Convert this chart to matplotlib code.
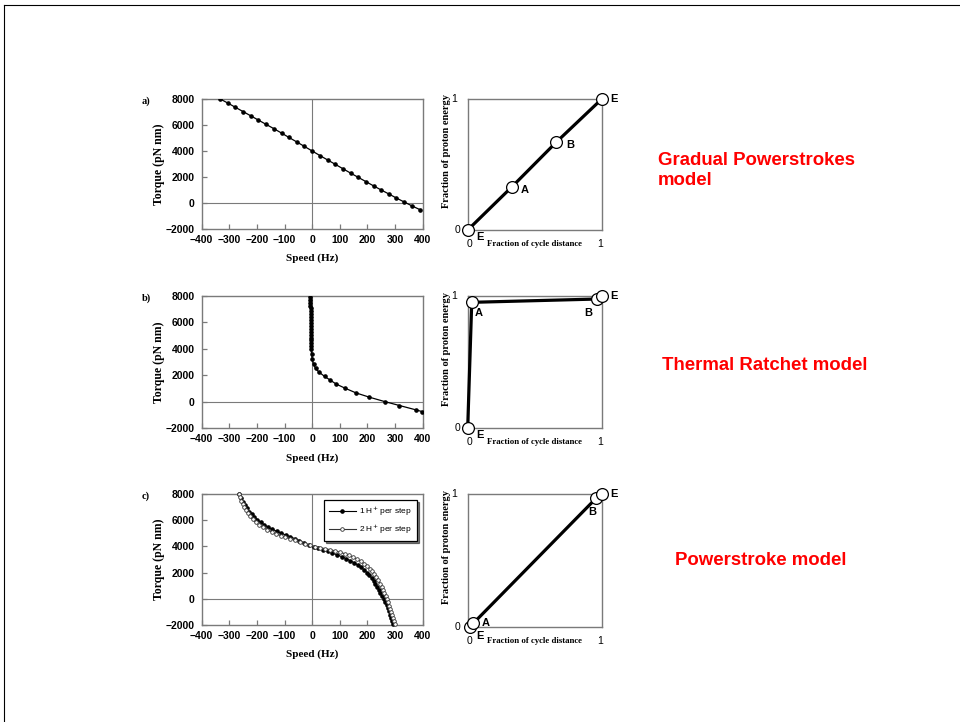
import matplotlib
matplotlib.use("Agg")
import matplotlib.pyplot as plt
from matplotlib.lines import Line2D

SANS = "Liberation Sans"
SERIF = "Liberation Serif"
GRAY = "#7a7a7a"
RED = "#ff0000"

# panel a: gradual powerstrokes
speed_a = [-333, -305, -278, -250, -222, -195, -167, -139, -111, -84, -56, -28, 0,
           28, 56, 84, 111, 139, 167, 195, 222, 250, 278, 305, 333, 361, 389]
torque_a = [8000, 7680, 7360, 7030, 6700, 6380, 6050, 5720, 5380, 5040, 4700, 4350, 4000,
            3650, 3310, 2970, 2640, 2300, 1970, 1640, 1320, 1000, 690, 380, 80, -220, -500]

# panel b: thermal ratchet
speed_b = [-7, -7, -7, -7, -6, -6, -6, -6, -6, -5, -5, -5, -5, -5, -4, -4, -4, -4, -4, -2,
           0, 5, 12, 26, 45, 63, 87, 120, 159, 207, 262, 316, 374, 398]
torque_b = [7930, 7700, 7480, 7260, 7040, 6820, 6600, 6380, 6160, 5940, 5720, 5500, 5280,
            5060, 4840, 4620, 4400, 4180, 3940, 3560,
            3190, 2820, 2500, 2200, 1900, 1650, 1320, 1000, 650, 330, 0, -300, -620, -760]

# panel c: powerstroke, 1 H+ per step
speed_c1 = [-264, -258, -251, -244, -236, -228, -219, -209, -198, -186, -173, -159, -144,
            -128, -112, -96, -80, -63, -46, -29, -12, 5, 22, 39, 56, 73, 90, 107, 123,
            138, 152, 165, 177, 188, 198, 207, 215, 222, 229, 235, 241, 247, 253, 259,
            264, 269, 274, 278, 282, 286, 290, 294]
torque_c1 = [8000, 7700, 7400, 7150, 6900, 6650, 6450, 6250, 6040, 5840, 5650, 5470, 5310,
             5160, 5020, 4880, 4750, 4600, 4440, 4280, 4110, 3960, 3850, 3740, 3620, 3490,
             3360, 3220, 3070, 2910, 2750, 2580, 2400, 2210, 2010, 1800, 1590, 1370, 1150,
             930, 700, 470, 240, 0, -240, -480, -720, -960, -1200, -1440, -1680, -1920]

# panel c: powerstroke, 2 H+ per step
speed_c2 = [-264, -261, -257, -252, -246, -240, -233, -225, -216, -205, -192, -178, -163,
            -147, -131, -114, -97, -80, -62, -44, -26, -8, 10, 28, 46, 64, 82, 100, 117,
            133, 148, 162, 175, 187, 198, 208, 217, 225, 232, 239, 245, 251, 256, 261,
            266, 271, 275, 279, 283, 287, 290, 293, 296, 299]
torque_c2 = [8000, 7750, 7500, 7260, 7020, 6780, 6540, 6300, 6070, 5850, 5640, 5450, 5270,
             5110, 4960, 4820, 4700, 4590, 4480, 4360, 4220, 4080, 3980, 3910, 3840, 3760,
             3670, 3570, 3450, 3320, 3180, 3030, 2870, 2690, 2500, 2300, 2090, 1870, 1640,
             1410, 1170, 930, 690, 450, 210, -30, -270, -510, -750, -990, -1230, -1470,
             -1710, -1950]

# energy diagrams: fraction of cycle distance / fraction of proton energy
dist_a = [0, 0.33, 0.66, 1]
energy_a = [0, 0.33, 0.67, 1]
dist_b = [0, 0.03, 0.965, 1]
energy_b = [0, 0.95, 0.975, 1]
dist_c = [0.015, 0.04, 0.96, 1]
energy_c = [0, 0.026, 0.97, 1]
point_names = ["E", "A", "B", "E"]

speed_ticks = [-400, -300, -200, -100, 0, 100, 200, 300, 400]
torque_ticks = [-2000, 0, 2000, 4000, 6000, 8000]

model_names = ["Gradual Powerstrokes\nmodel", "Thermal Ratchet model", "Powerstroke model"]


def fmt(v):
    return str(v).replace("-", "\u2212")


def torque_axes(ax, letter):
    ax.set_xlim(-400, 400)
    ax.set_ylim(-2000, 8000)
    ax.set_xticks(speed_ticks, [fmt(t) for t in speed_ticks],
                  fontfamily=SANS, fontweight="bold", fontsize=7.5)
    ax.set_yticks(torque_ticks, [fmt(t) for t in torque_ticks],
                  fontfamily=SANS, fontweight="bold", fontsize=7.5)
    ax.tick_params(direction="in", length=3.5, width=0.9, color=GRAY)
    ax.tick_params(axis="y", pad=5)
    ax.tick_params(axis="x", pad=4)
    for s in ax.spines.values():
        s.set_color(GRAY)
        s.set_linewidth(1.0)
    ax.axhline(0, color=GRAY, lw=0.8, zorder=1)
    ax.axvline(0, color=GRAY, lw=0.8, zorder=1)
    ax.text(-0.192, 0.5, "Torque (pN nm)", transform=ax.transAxes, rotation=90,
            ha="center", va="center", fontfamily=SERIF, fontweight="bold", fontsize=8.5)
    ax.text(0.5, -0.225, "Speed (Hz)", transform=ax.transAxes, ha="center", va="center",
            fontfamily=SERIF, fontweight="bold", fontsize=8)
    ax.text(-0.27, 0.985, letter, transform=ax.transAxes, ha="left", va="center",
            fontfamily=SERIF, fontweight="bold", fontsize=7.5)


def energy_axes(ax, dist, energy, offsets):
    ax.set_xlim(0, 1)
    ax.set_ylim(0, 1)
    ax.set_xticks([])
    ax.set_yticks([])
    for s in ax.spines.values():
        s.set_color(GRAY)
        s.set_linewidth(1.0)
    ax.plot(dist, energy, color="black", lw=2.3, zorder=3, clip_on=False)
    ax.plot(dist, energy, "o", ms=8.5, mfc="white", mec="black", mew=0.9,
            zorder=4, clip_on=False)
    for x, y, name, off in zip(dist, energy, point_names, offsets):
        ax.annotate(name, (x, y), xytext=off, textcoords="offset points",
                    ha="center", va="center", fontfamily=SANS, fontweight="bold",
                    fontsize=8)
    tk = dict(fontfamily=SANS, fontsize=7.5, ha="center", va="center",
              transform=ax.transAxes)
    ax.text(-0.075, 0.0, "0", **tk)
    ax.text(-0.1, 1.0, "1", **tk)
    ax.text(0.01, -0.11, "0", **tk)
    ax.text(0.985, -0.11, "1", **tk)
    ax.text(0.5, -0.11, "Fraction of cycle distance", transform=ax.transAxes,
            ha="center", va="center", fontfamily=SERIF, fontweight="bold", fontsize=6.3)
    ax.text(-0.16, 0.6, "Fraction of proton energy", transform=ax.transAxes,
            rotation=90, ha="center", va="center", fontfamily=SERIF,
            fontweight="bold", fontsize=7.5)


fig = plt.figure(figsize=(9.6, 7.22), dpi=100)

# slide border
fig.add_artist(Line2D([4 / 960, 1], [1 - 5 / 722, 1 - 5 / 722], color="black", lw=0.8))
fig.add_artist(Line2D([4 / 960, 4 / 960], [0, 1 - 5 / 722], color="black", lw=0.8))

ax_a = fig.add_axes([0.2101, 0.6828, 0.2302, 0.1801])
ax_b = fig.add_axes([0.2101, 0.4072, 0.2302, 0.1832])
ax_c = fig.add_axes([0.2101, 0.1343, 0.2302, 0.1814])
en_a = fig.add_axes([0.4872, 0.6814, 0.1396, 0.1814])
en_b = fig.add_axes([0.4872, 0.4076, 0.1396, 0.1828])
en_c = fig.add_axes([0.4875, 0.1320, 0.1393, 0.1838])

torque_axes(ax_a, "a)")
ax_a.plot(speed_a, torque_a, color="black", lw=0.9, marker="o", ms=2.3, zorder=3)

torque_axes(ax_b, "b)")
ax_b.plot(speed_b, torque_b, color="black", lw=0.9, marker="o", ms=2.3, zorder=3)

torque_axes(ax_c, "c)")
ax_c.plot(speed_c1, torque_c1, color="black", lw=0.8, marker="o", ms=2.3,
          label="1 H$^{+}$ per step", zorder=3, clip_on=False)
ax_c.plot(speed_c2, torque_c2, color="#333333", lw=0.8, marker="o", ms=2.6,
          mfc="white", mec="#333333", mew=0.6, label="2 H$^{+}$ per step",
          zorder=3, clip_on=False)
leg = ax_c.legend(loc="upper right", bbox_to_anchor=(0.992, 0.99),
                  handlelength=3.2, borderpad=0.6, labelspacing=0.5, fancybox=False,
                  handletextpad=0.4, framealpha=1, edgecolor="black",
                  shadow={"color": "black", "ox": 1.5, "oy": -1.5},
                  prop={"family": SANS, "size": 6})
leg.get_frame().set_linewidth(0.9)

energy_axes(en_a, dist_a, energy_a, [(9, -5), (9, -2), (10, -2), (9, 0)])
energy_axes(en_b, dist_b, energy_b, [(9, -5), (5, -8), (-6, -10), (9, 0)])
energy_axes(en_c, dist_c, energy_c, [(7, -7), (9, 0), (-3, -10), (9, 0)])

red = dict(color=RED, fontfamily=SANS, fontweight="bold", fontsize=13.4,
           ha="left", va="baseline", linespacing=1.2)
fig.text(658 / 960, 1 - 185 / 722, model_names[0], **red)
fig.text(662 / 960, 1 - 370 / 722, model_names[1], **red)
fig.text(675 / 960, 1 - 565 / 722, model_names[2], **red)

fig.savefig("out.png", dpi=100)
